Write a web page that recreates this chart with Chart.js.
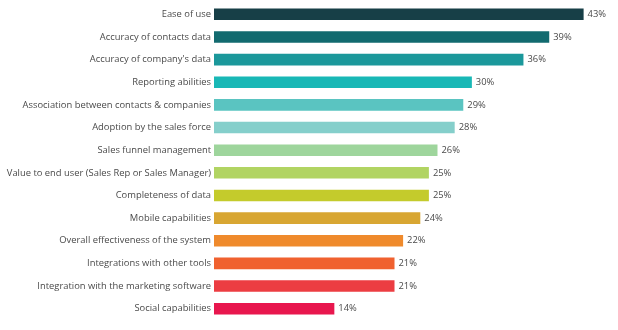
<!DOCTYPE html>
<html>
<head>
<meta charset="utf-8">
<script src="https://cdn.jsdelivr.net/npm/chart.js@4"></script>
<style>
  html, body { margin: 0; padding: 0; background: #fff; }
  #wrap { width: 618px; height: 330px; position: relative; }
</style>
</head>
<body>
<div id="wrap"><canvas id="chart"></canvas></div>
<script>
const categories = [
    "Ease of use",
    "Accuracy of contacts data",
    "Accuracy of company's data",
    "Reporting abilities",
    "Association between contacts & companies",
    "Adoption by the sales force",
    "Sales funnel management",
    "Value to end user (Sales Rep or Sales Manager)",
    "Completeness of data",
    "Mobile capabilities",
    "Overall effectiveness of the system",
    "Integrations with other tools",
    "Integration with the marketing software",
    "Social capabilities"
]
const values = [43, 39, 36, 30, 29, 28, 26, 25, 25, 24, 22, 21, 21, 14]
const barColors = [
    "#173f47", "#126a6f", "#1b989b", "#19b8b6", "#5ac4c1", "#85cfcb", "#9ed59c",
    "#b1d462", "#c4cb2c", "#d8a632", "#ef8a2c", "#f0612f", "#ec3d42", "#e8174e"
]

const valueLabels = {
    id: "valueLabels",
    afterDatasetsDraw(chart) {
        const ctx = chart.ctx
        const meta = chart.getDatasetMeta(0)
        ctx.save()
        ctx.font = "9.4px 'Open Sans'"
        ctx.fillStyle = "#4a4a4a"
        ctx.textBaseline = "middle"
        ctx.textAlign = "left"
        meta.data.forEach((bar, i) => {
            ctx.fillText(values[i] + "%", bar.x + 4, bar.y)
        })
        ctx.restore()
    }
}

new Chart(document.getElementById("chart"), {
    type: "bar",
    data: {
        labels: categories,
        datasets: [{
            data: values,
            backgroundColor: barColors,
            borderWidth: 0,
            barPercentage: 1,
            categoryPercentage: 0.51
        }]
    },
    options: {
        indexAxis: "y",
        responsive: true,
        maintainAspectRatio: false,
        animation: false,
        layout: {padding: {top: 3, bottom: 10, left: 0, right: 0}},
        plugins: {
            legend: {display: false},
            tooltip: {enabled: false}
        },
        scales: {
            x: {
                display: false,
                min: 0,
                max: 47
            },
            y: {
                grid: {display: false, drawTicks: false},
                border: {display: false},
                ticks: {
                    color: "#4a4a4a",
                    padding: 3,
                    font: {family: "'Open Sans'", size: 9.4}
                },
                afterFit(scale) {
                    // keep the label column fixed and drop the edge padding
                    scale.width = 214
                    scale.paddingTop = 0
                    scale.paddingBottom = 0
                }
            }
        }
    },
    plugins: [valueLabels]
})
</script>
</body>
</html>
